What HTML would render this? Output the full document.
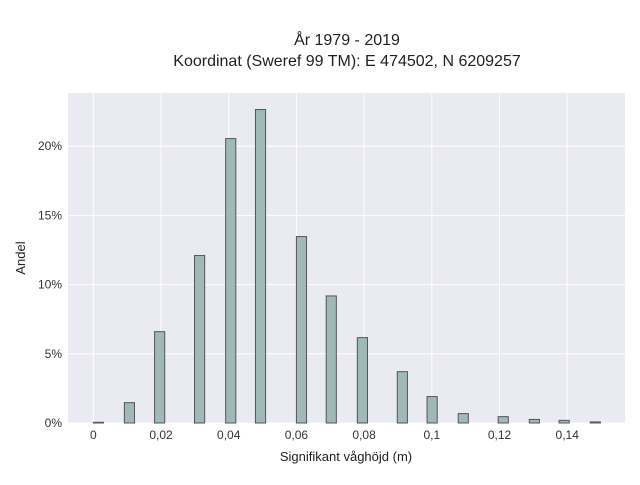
<!DOCTYPE html>
<html><head><meta charset="utf-8"><style>
body{margin:0;background:#fff;}
svg{font-family:"Liberation Sans",sans-serif;}
</style></head><body>
<svg id="chart" width="640" height="480">
<text x="347" y="45" text-anchor="middle" font-size="16" fill="#222">År 1979 - 2019</text>
<text x="347" y="66" text-anchor="middle" font-size="16" fill="#222">Koordinat (Sweref 99 TM): E 474502, N 6209257</text>
<rect x="68" y="93" width="557" height="330" fill="#eaeaf2"/>
<g id="grid"></g><g id="bars"></g><g id="ticks"></g>
<text x="346" y="461" text-anchor="middle" font-size="13" fill="#222">Signifikant våghöjd (m)</text>
<text transform="translate(25,258) rotate(-90)" text-anchor="middle" font-size="13" fill="#222">Andel</text>
</svg>
<script>
const binStarts=[0,0.00917,0.0181,0.0299,0.0391,0.0479,0.0600,0.0688,0.0780,0.0898,0.0986,0.1078,0.1196,0.1288,0.1376,0.1468];
const shares=[0.05,1.47,6.6,12.1,20.55,22.65,13.47,9.18,6.17,3.71,1.91,0.68,0.46,0.26,0.19,0.08];
const binWidth=0.003;
const xTicks=[0,0.02,0.04,0.06,0.08,0.1,0.12,0.14];
const xTickLabels=["0","0,02","0,04","0,06","0,08","0,1","0,12","0,14"];
const yTicks=[0,5,10,15,20];
const yTickLabels=["0%","5%","10%","15%","20%"];
const NS="http://www.w3.org/2000/svg";
const X=v=>93.3+v*3385;
const Y=v=>423-v*13.84;
function mk(tag,attrs,parent,txt){const e=document.createElementNS(NS,tag);for(const k in attrs)e.setAttribute(k,attrs[k]);if(txt!==undefined)e.textContent=txt;document.getElementById(parent).appendChild(e);return e;}
xTicks.forEach((t,i)=>{
  const g=mk('line',{x1:X(t),x2:X(t),y1:93,y2:423,stroke:'#fff','stroke-width':1},'grid');
  
  
  const l=mk('text',{x:X(t),y:439,'text-anchor':'middle','font-size':12,fill:'#333'},'ticks',xTickLabels[i]);
  
  
});
yTicks.forEach((t,i)=>{
  const g=mk('line',{x1:68,x2:625,y1:Y(t),y2:Y(t),stroke:'#fff','stroke-width':1},'grid');
  
  
  const l=mk('text',{x:62,y:Y(t)+4,'text-anchor':'end','font-size':12,fill:'#333'},'ticks',yTickLabels[i]);
  
  
});
binStarts.forEach((s,i)=>{
  const x0=X(s),x1=X(s+binWidth),y=Y(shares[i]);
  const r=mk('rect',{x:x0,y:y,width:x1-x0,height:423-y,fill:'#9fb8b8',stroke:'#555','stroke-width':1},'bars');
  
  
});
</script>
</body></html>
